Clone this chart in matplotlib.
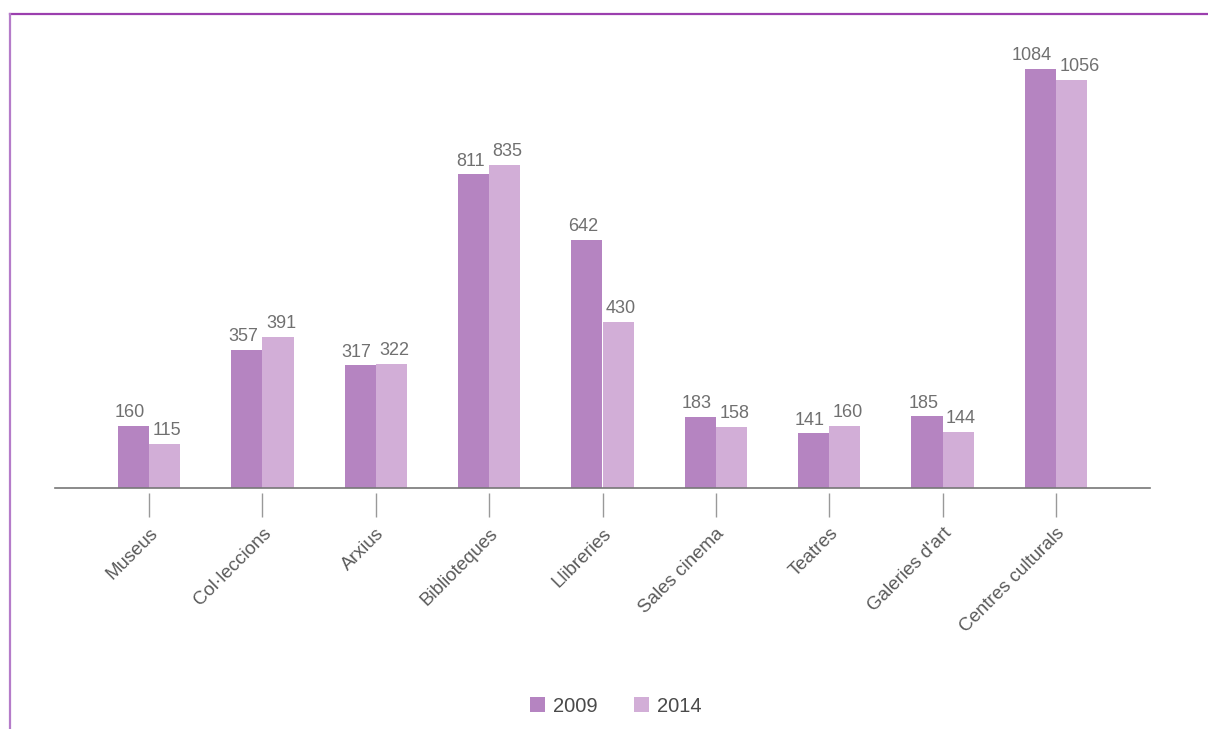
import matplotlib
matplotlib.use("Agg")
import matplotlib.pyplot as plt
from matplotlib.lines import Line2D
from matplotlib.patches import Patch
import numpy as np

categories = ["Museus", "Col·leccions", "Arxius", "Biblioteques", "Llibreries",
              "Sales cinema", "Teatres", "Galeries d'art", "Centres culturals"]
values_2009 = [160, 357, 317, 811, 642, 183, 141, 185, 1084]
values_2014 = [115, 391, 322, 835, 430, 158, 160, 144, 1056]
series_labels = ["2009", "2014"]

c2009 = "#b584c1"
c2014 = "#d2aed7"

plt.rcParams['font.family'] = ['Liberation Sans', 'DejaVu Sans']

W, H = 1208, 729
fig = plt.figure(figsize=(W / 100, H / 100), dpi=100)
ax = fig.add_axes([55 / W, (H - 488) / H, 1095 / W, (488 - 14) / H])

x = np.arange(len(categories))
bw = 0.275
b1 = ax.bar(x - bw / 2, values_2009, bw, color=c2009, label=series_labels[0])
b2 = ax.bar(x + bw / 2, values_2014, bw, color=c2014, label=series_labels[1])

for r, v in zip(b1, values_2009):
    ax.annotate(str(v), (r.get_x() + r.get_width(), r.get_height()),
                xytext=(-3, 3.5), textcoords="offset points",
                ha="right", va="bottom", fontsize=13, color="#707070")
for r, v in zip(b2, values_2014):
    ax.annotate(str(v), (r.get_x(), r.get_height()),
                xytext=(2.5, 3.5), textcoords="offset points",
                ha="left", va="bottom", fontsize=13, color="#707070")

ax.set_xlim(-0.83, len(categories) - 1 + 0.83)
ax.set_ylim(0, (488 - 14) / 0.3866)
for s in ("top", "right", "left"):
    ax.spines[s].set_visible(False)
ax.spines["bottom"].set_color("#777777")
ax.spines["bottom"].set_linewidth(1.2)
ax.set_yticks([])
ax.set_xticks([])

sec = ax.secondary_xaxis(-5 / 474)
sec.spines["bottom"].set_visible(False)
sec.set_xticks(x)
sec.set_xticklabels(categories, rotation=45, ha="right", va="top",
                    rotation_mode="anchor", fontsize=13.5, color="#5a5a5a")
sec.tick_params(axis="x", length=17, width=1, color="#999999", pad=6)

handles = [Patch(facecolor=c2009, label=series_labels[0]),
           Patch(facecolor=c2014, label=series_labels[1])]
leg = fig.legend(handles=handles, loc="center", bbox_to_anchor=(616 / W, 1 - 706 / H),
                 ncol=2, frameon=False, fontsize=14.5, handlelength=0.75,
                 handleheight=0.75, handletextpad=0.4, columnspacing=1.8)
for t in leg.get_texts():
    t.set_color("#4a4a4a")

# decorative frame lines
fig.add_artist(Line2D([10 / W, 1.0], [1 - 14 / H, 1 - 14 / H], color="#9b3fae", lw=1.6))
fig.add_artist(Line2D([10 / W, 10 / W], [1 - 14 / H, 0], color="#b57cc9", lw=1.6))

fig.savefig("out.png", dpi=100)
